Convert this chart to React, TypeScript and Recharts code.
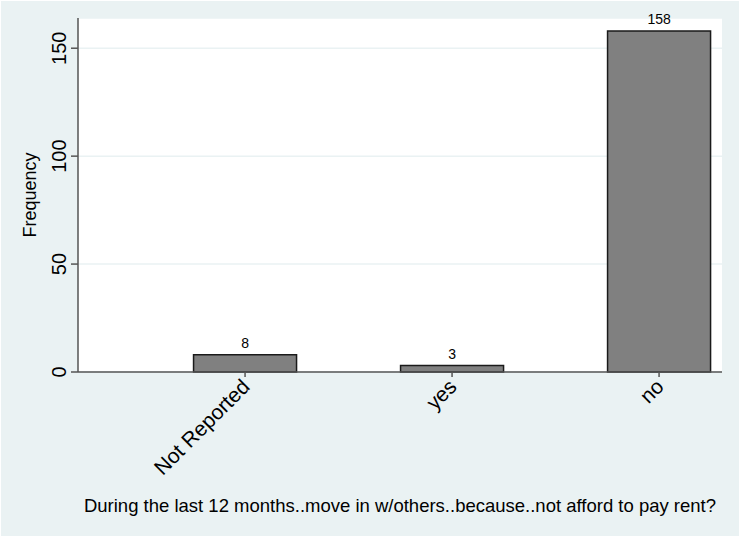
import { BarChart, Bar, XAxis, YAxis, CartesianGrid, LabelList } from 'recharts';

const categories = ['Not Reported', 'yes', 'no'];
const frequencies = [8, 3, 158];
const yTicks = [0, 50, 100, 150];

const data = categories.map((name, i) => ({ pos: i + 1, name, value: frequencies[i] }));

const BG = '#eaf2f3';
const FONT = '"Liberation Sans", Arial, Helvetica, sans-serif';

const YTick = ({ x, y, payload }: any) => (
  <text
    x={x - 3}
    y={y}
    transform={`rotate(-90, ${x - 3}, ${y})`}
    textAnchor="middle"
    fontSize={20}
    fill="#000"
    fontFamily={FONT}
  >
    {payload.value}
  </text>
);

const XTick = ({ x, y, payload }: any) => (
  <text
    x={x + 6}
    y={y + 8}
    transform={`rotate(-45, ${x + 6}, ${y + 8})`}
    textAnchor="end"
    fontSize={21}
    fill="#000"
    fontFamily={FONT}
  >
    {categories[payload.value - 1]}
  </text>
);

const YLabel = ({ viewBox }: any) => {
  const cx = 36;
  const cy = viewBox.y + viewBox.height / 2;
  return (
    <text
      x={cx}
      y={cy}
      transform={`rotate(-90, ${cx}, ${cy})`}
      textAnchor="middle"
      fontSize={18}
      fill="#000"
      fontFamily={FONT}
    >
      Frequency
    </text>
  );
};

const App = () => {
  return (
    <div style={{ width: 740, height: 537, background: '#fff', position: 'relative' }}>
      <style>{'body{margin:0}'}</style>
      <div style={{ position: 'absolute', left: 1, top: 1, width: 738, height: 535, background: BG }} />
      <div style={{ position: 'absolute', left: 0, top: 0 }}>
        <BarChart
          width={740}
          height={537}
          data={data}
          margin={{ top: 18, right: 18, left: 0, bottom: 0 }}
        >
          <CartesianGrid vertical={false} stroke={BG} strokeWidth={1.5} fill="#fff" />
          <XAxis
            dataKey="pos"
            type="number"
            domain={[0.193, 3.304]}
            ticks={[1, 2, 3]}
            allowDataOverflow
            height={165}
            stroke="#555"
            strokeWidth={1.5}
            tickSize={5}
            tickMargin={3}
            tick={<XTick />}
            label={{
              value: 'During the last 12 months..move in w/others..because..not afford to pay rent?',
              position: 'insideBottom',
              offset: 25,
              fontSize: 18.5,
              fill: '#000',
              fontFamily: FONT,
            }}
          />
          <YAxis
            width={78}
            domain={[0, 164]}
            ticks={yTicks}
            stroke="#555"
            strokeWidth={1.5}
            tickSize={7}
            tickMargin={2}
            tick={<YTick />}
            label={<YLabel />}
          />
          <Bar dataKey="value" fill="#808080" stroke="#1a1a1a" strokeWidth={1.5} barSize={103} isAnimationActive={false}>
            <LabelList dataKey="value" position="top" offset={7} fontSize={14} fill="#000" fontFamily={FONT} />
          </Bar>
        </BarChart>
      </div>
    </div>
  );
};

export default App;
